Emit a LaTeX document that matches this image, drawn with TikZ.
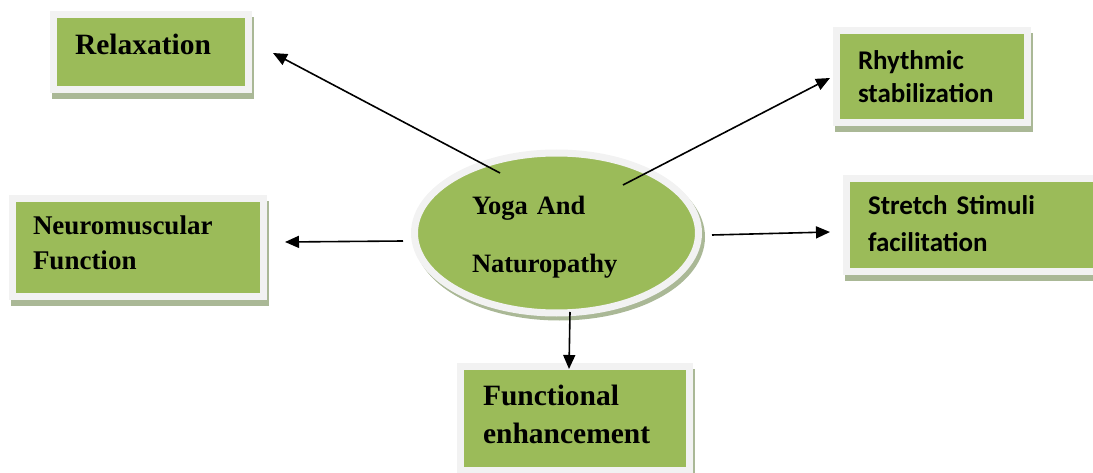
\documentclass[tikz,border=0pt]{standalone}
\usepackage{fontspec}
\setmainfont{Liberation Serif}
\newfontfamily\calibri{Carlito}
\usetikzlibrary{arrows.meta,shapes.geometric}
\definecolor{boxgreen}{HTML}{9BBB59}
\definecolor{framegray}{HTML}{F2F2F2}
\definecolor{shadowc}{RGB}{170,184,150}
\begin{document}
\begin{tikzpicture}[x=1pt,y=-1pt,
  framed/.style={fill=boxgreen, draw=framegray, line width=7pt, inner sep=0pt, align=left, text height=10pt},
  box/.style={rectangle, framed,
    preaction={draw=shadowc, fill=shadowc, line width=7pt, transform canvas={shift={(2pt,-6pt)}}}},
  oval/.style={ellipse, framed,
    preaction={draw=shadowc, fill=shadowc, line width=7pt, transform canvas={shift={(3pt,-4pt)}}}},
  conn/.style={line width=1.6pt, -{Triangle[length=14pt,width=12pt]}},
]
\path[use as bounding box, clip] (0,0) rectangle (1093,473);

\node[box, font=\bfseries\fontsize{29.5}{37}\selectfont, minimum width=195.5pt, minimum height=75pt,
      text width=151.5pt, text depth=5pt] (relax) at (150.75,52.5) {Relaxation};
\node[box, font=\calibri\bfseries\fontsize{27}{33}\selectfont, minimum width=191pt, minimum height=92.5pt,
      text width=148pt, text depth=23.5pt] (rhythm) at (932,76.75) {Rhythmic\\stabilization};
\node[box, font=\bfseries\fontsize{27}{35}\selectfont, minimum width=251.5pt, minimum height=97.5pt,
      text width=209.5pt, text depth=35.5pt] (neuro) at (137.75,247.75) {Neuromuscular\\Function};
\node[box, font=\calibri\bfseries\fontsize{27}{37}\selectfont, minimum width=253.5pt, minimum height=92.5pt,
      text width=210.5pt, text depth=30.5pt] (stretch) at (973.25,225.25) {Stretch Stimuli\\facilitation};
\node[box, font=\bfseries\fontsize{29.5}{38}\selectfont, minimum width=228.5pt, minimum height=103.5pt,
      text width=183.5pt, text depth=36.5pt] (func) at (574.75,418.25) {Functional\\enhancement};
\node[oval, font=\bfseries\fontsize{26.5}{58}\selectfont, minimum width=284pt, minimum height=160pt,
      text width=169pt, text depth=46pt] (yoga) at (556.5,233) {Yoga And\\Naturopathy};

\coordinate (s1) at (500,173);  \coordinate (t1) at (273,53);
\coordinate (s2) at (623,185);  \coordinate (t2) at (830,78);
\coordinate (s3) at (403,241);  \coordinate (t3) at (285,242);
\coordinate (s4) at (712,235);  \coordinate (t4) at (830,232);
\coordinate (s5) at (570,312);  \coordinate (t5) at (569,369);

\draw[conn] (s1) -- (t1);
\draw[conn] (s2) -- (t2);
\draw[conn] (s3) -- (t3);
\draw[conn] (s4) -- (t4);
\draw[conn] (s5) -- (t5);
\end{tikzpicture}
\end{document}
